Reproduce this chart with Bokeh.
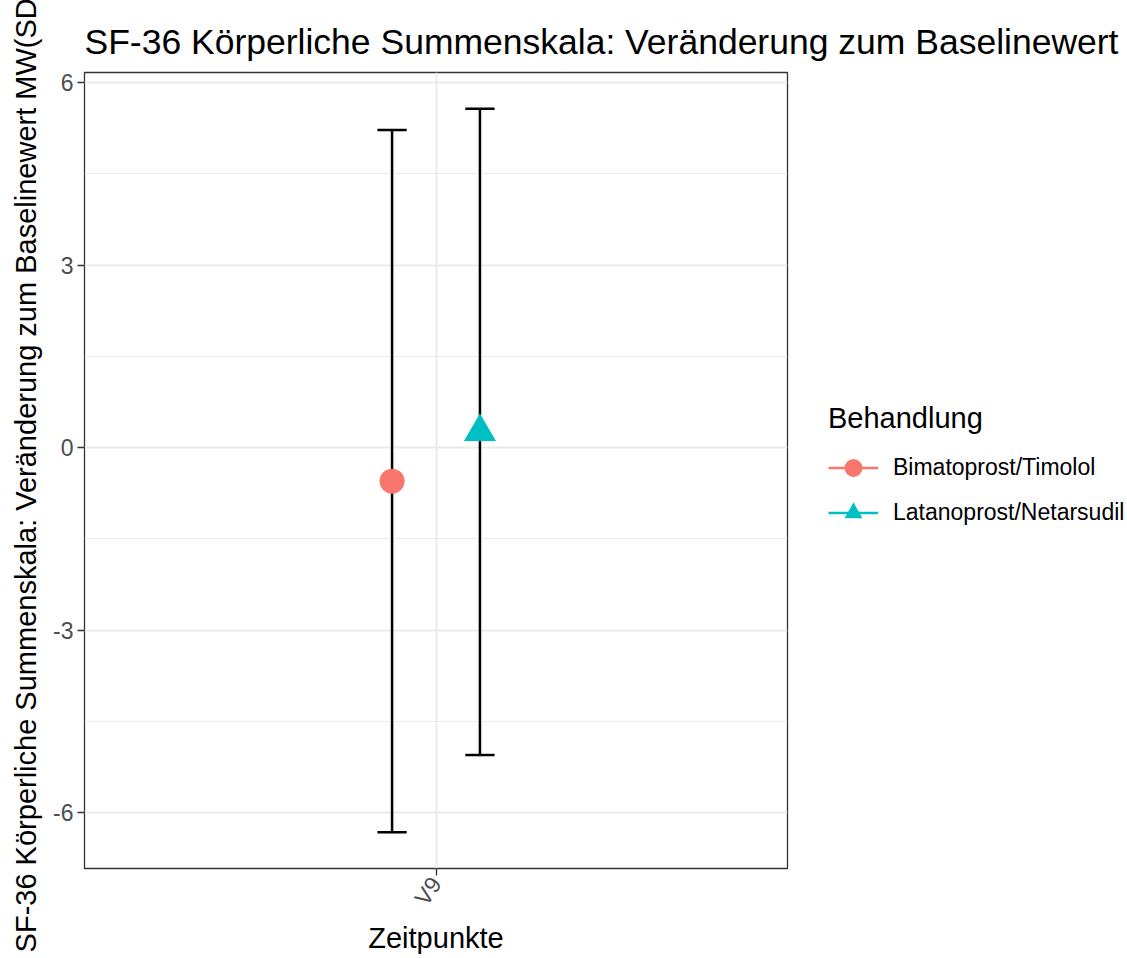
import math
from bokeh.plotting import figure
from bokeh.models import ColumnDataSource, FixedTicker, Legend, LegendItem, FactorRange, Range1d
from bokeh.transform import dodge
from bokeh.embed import file_html
from bokeh.resources import INLINE

# ---------------- data ----------------
title_text = "SF-36 Körperliche Summenskala: Veränderung zum Baselinewert"
y_label = "SF-36 Körperliche Summenskala: Veränderung zum Baselinewert MW(SD)"
x_label = "Zeitpunkte"
legend_title = "Behandlung"

timepoints = ["V9"]
treatments = ["Bimatoprost/Timolol", "Latanoprost/Netarsudil"]
means = [-0.55, 0.26]
sds = [5.77, 5.31]
colors = ["#F8766D", "#00BFC4"]
markers = ["circle", "triangle"]
marker_sizes = [25, 32]

y_ticks = [-6, -3, 0, 3, 6]
y_tick_labels = ["-6", "-3", "0", "3", "6"]
y_minor = [-4.5, -1.5, 1.5, 4.5]

dodge_width = 0.3
cap_width = 0.05

FONT = "Liberation Sans"

lows = [m - s for m, s in zip(means, sds)]
highs = [m + s for m, s in zip(means, sds)]
lo, hi = min(lows), max(highs)
pad = 0.05 * (hi - lo)

p = figure(
    x_range=FactorRange(factors=timepoints, range_padding=0.2),
    y_range=Range1d(lo - pad, hi + pad),
    frame_width=703, frame_height=796,
    min_border_left=84, min_border_right=330, min_border_top=72, min_border_bottom=82,
    output_backend="svg", toolbar_location=None,
    background_fill_color="white", border_fill_color="white",
)

p.title.text = title_text
p.title.text_font = FONT
p.title.text_font_size = "35.5px"
p.title.text_font_style = "normal"
p.title.text_color = "black"
p.title.standoff = 21

p.outline_line_color = "#333333"
p.outline_line_width = 1.3

# grid
p.ygrid.ticker = FixedTicker(ticks=y_ticks, minor_ticks=y_minor)
p.ygrid.grid_line_color = "#EBEBEB"
p.ygrid.grid_line_width = 2
p.ygrid.minor_grid_line_color = "#EBEBEB"
p.ygrid.minor_grid_line_width = 1
p.xgrid.grid_line_color = "#EBEBEB"
p.xgrid.grid_line_width = 2

# axes
p.yaxis.ticker = FixedTicker(ticks=y_ticks)
p.yaxis.major_label_overrides = {t: lab for t, lab in zip(y_ticks, y_tick_labels)}
for ax in (p.xaxis[0], p.yaxis[0]):
    ax.axis_line_color = None
    ax.major_tick_line_color = "#333333"
    ax.major_tick_line_width = 1.3
    ax.major_tick_out = 7
    ax.major_tick_in = 0
    ax.minor_tick_line_color = None
    ax.major_label_text_font = FONT
    ax.major_label_text_font_size = "23px"
    ax.major_label_text_color = "#4D4D4D"
    ax.axis_label_text_font = FONT
    ax.axis_label_text_font_size = "29px"
    ax.axis_label_text_font_style = "normal"
    ax.axis_label_text_color = "black"

p.yaxis.axis_label = y_label
p.yaxis.major_label_standoff = 4
p.yaxis.axis_label_standoff = 8
p.xaxis.axis_label = x_label
p.xaxis.major_label_orientation = math.radians(55)
p.xaxis.major_label_standoff = 4
p.xaxis.axis_label_standoff = 2

items = []
n = len(treatments)
for i, (name, m, s, c, mk, sz) in enumerate(zip(treatments, means, sds, colors, markers, marker_sizes)):
    off = (i - (n - 1) / 2) * dodge_width / n
    src = ColumnDataSource(dict(x=timepoints, mean=[m], lower=[m - s], upper=[m + s]))
    p.segment(x0=dodge("x", off, range=p.x_range), y0="lower",
              x1=dodge("x", off, range=p.x_range), y1="upper",
              source=src, line_color="black", line_width=2.5)
    for col in ("lower", "upper"):
        p.segment(x0=dodge("x", off - cap_width / 2, range=p.x_range), y0=col,
                  x1=dodge("x", off + cap_width / 2, range=p.x_range), y1=col,
                  source=src, line_color="black", line_width=2.5)
    key_line = p.line(x=dodge("x", off, range=p.x_range), y="mean", source=src,
                      line_color=c, line_width=2.5)
    pt = p.scatter(x=dodge("x", off, range=p.x_range), y="mean", source=src,
                   marker=mk, size=sz, fill_color=c, line_color=None)
    items.append(LegendItem(label=name, renderers=[key_line, pt]))

legend = Legend(
    items=items, location=(41, 333), orientation="vertical",
    title=legend_title,
    title_text_font=FONT, title_text_font_size="29px", title_text_font_style="normal",
    title_text_color="black", title_standoff=10,
    label_text_font=FONT, label_text_font_size="23px", label_text_color="black",
    glyph_width=50, glyph_height=45, spacing=0, label_standoff=15,
    padding=0, margin=0, border_line_color=None, background_fill_alpha=0,
)
p.add_layout(legend, "right")

open("out.html", "w").write(file_html(p, INLINE))
